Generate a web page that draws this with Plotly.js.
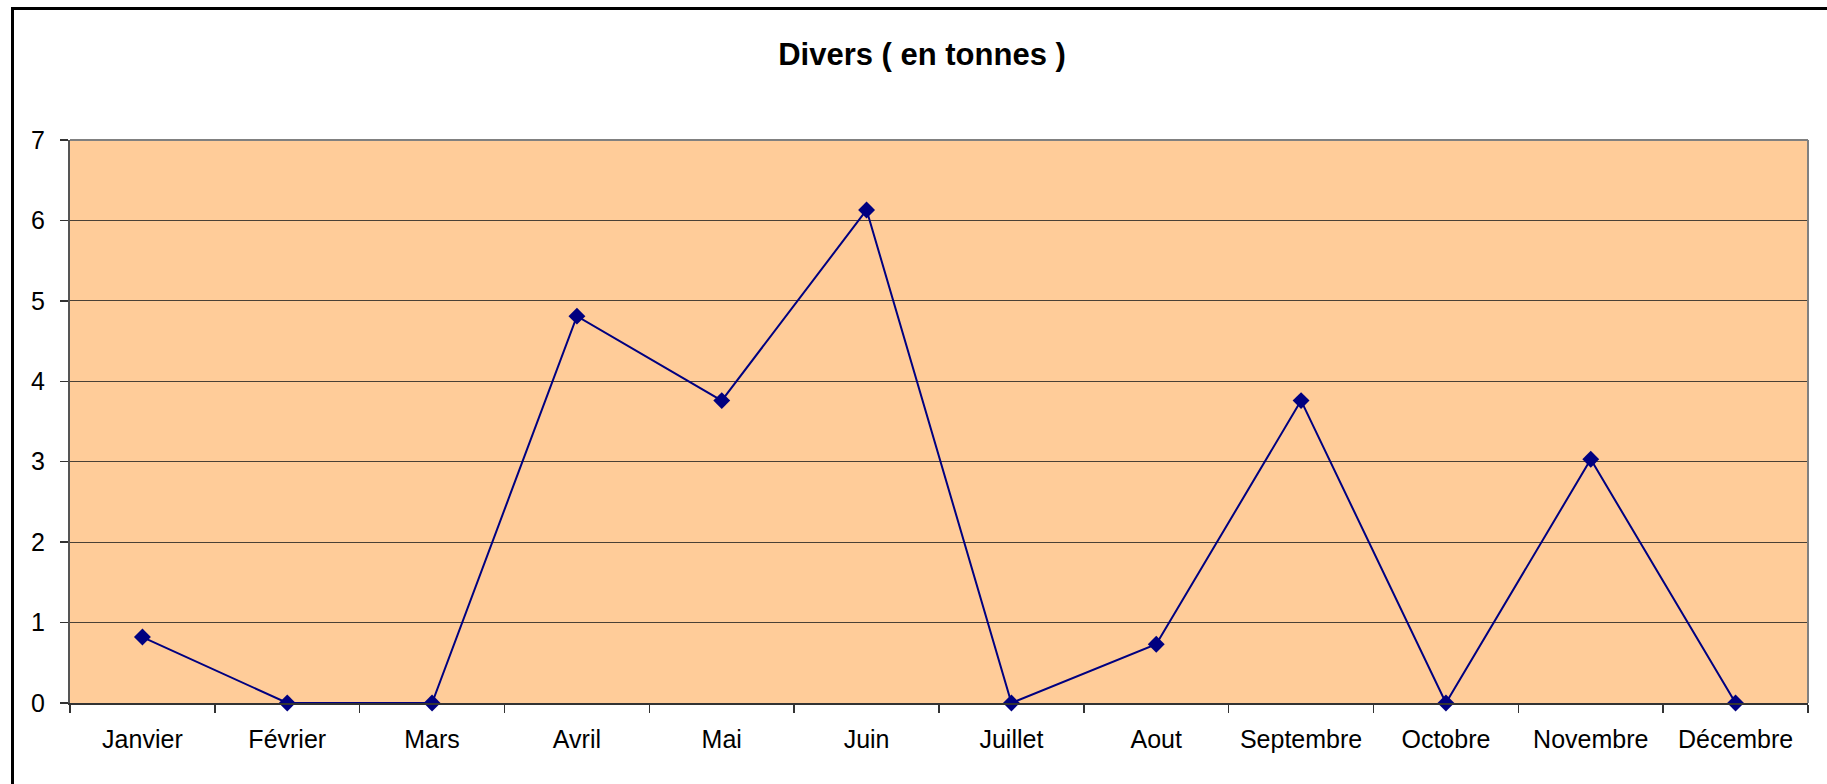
<!DOCTYPE html>
<html>
<head>
<meta charset="utf-8">
<script src="https://cdn.plot.ly/plotly-3.0.1.min.js"></script>
<style>
  html, body { margin: 0; padding: 0; background: #fff; overflow: hidden; }
  #wrap { position: relative; width: 1827px; height: 784px; overflow: hidden; }
  #chart { width: 1827px; height: 784px; }
  /* black chart frame; right and bottom edges fall outside the page */
  #frame { position: absolute; left: 11px; top: 7px; width: 3000px; height: 3000px;
           border: 3px solid #000; pointer-events: none; }
</style>
</head>
<body>
<div id="wrap">
  <div id="chart"></div>
  <div id="frame"></div>
</div>
<script>
// months and tonnage
const months = ['Janvier', 'Février', 'Mars', 'Avril', 'Mai', 'Juin',
                'Juillet', 'Aout', 'Septembre', 'Octobre', 'Novembre', 'Décembre'];
const tonnes = [0.82, 0, 0, 4.81, 3.76, 6.13, 0, 0.73, 3.76, 0, 3.03, 0];
const yTicks = [0, 1, 2, 3, 4, 5, 6, 7];

const W = 1827, H = 784;
const margin = { l: 70, r: 19, t: 140, b: 81 };

const trace = {
    type: 'scatter',
    mode: 'lines+markers',
    x: months,
    y: tonnes,
    line: { color: '#000080', width: 2 },
    marker: { symbol: 'diamond', size: 13, color: '#000080' },
    cliponaxis: false,
    hoverinfo: 'x+y'
};

const tickFont = { family: 'Liberation Sans, Arial, sans-serif', size: 25, color: '#000' };

const layout = {
    width: W,
    height: H,
    margin: margin,
    paper_bgcolor: '#fff',
    plot_bgcolor: '#FFCC99',
    showlegend: false,
    title: {
        text: '<b>Divers ( en tonnes )</b>',
        font: { family: 'Liberation Sans, Arial, sans-serif', size: 31, color: '#000' },
        xref: 'container', x: 922 / W, xanchor: 'center',
        yref: 'container', y: 1 - 54 / H, yanchor: 'middle'
    },
    xaxis: {
        type: 'category',
        range: [-0.5, months.length - 0.5],
        tickson: 'boundaries',
        ticks: 'outside',
        ticklen: 8,
        tickcolor: '#333',
        tickwidth: 1.5,
        showgrid: false,
        showline: true,
        linecolor: '#333',
        linewidth: 2,
        zeroline: false,
        tickfont: tickFont,
        ticklabelstandoff: 13,
        fixedrange: true
    },
    yaxis: {
        range: [0, 7],
        tickvals: yTicks,
        ticktext: yTicks.map(String),
        ticks: 'outside',
        ticklen: 8,
        tickcolor: '#333',
        tickwidth: 1.5,
        showgrid: true,
        gridcolor: '#4a4035',
        gridwidth: 1,
        showline: true,
        linecolor: '#555',
        linewidth: 2,
        zeroline: false,
        tickfont: tickFont,
        ticklabelstandoff: 10,
        fixedrange: true
    },
    shapes: [
        // grey border on top and right of the plot area
        { type: 'line', xref: 'paper', yref: 'paper', x0: 0, x1: 1, y0: 1, y1: 1,
          line: { color: '#808080', width: 2 } },
        { type: 'line', xref: 'paper', yref: 'paper', x0: 1, x1: 1, y0: 0, y1: 1,
          line: { color: '#808080', width: 2 } }
    ]
};

Plotly.newPlot('chart', [trace], layout, { staticPlot: true, displayModeBar: false });
</script>
</body>
</html>
